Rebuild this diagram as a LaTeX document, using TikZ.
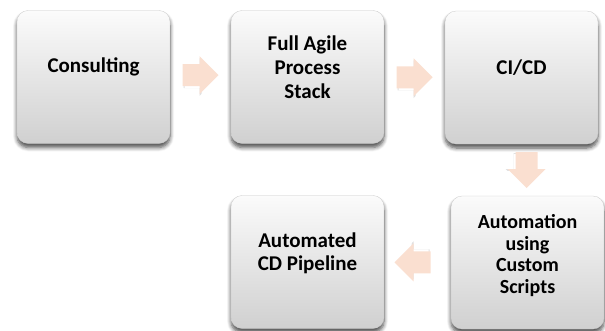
\documentclass[tikz,border=0pt]{standalone}
\usepackage{fontspec}
\setmainfont{Carlito}
\usetikzlibrary{calc,shadows.blur}
\definecolor{peach}{RGB}{250,223,208}
\definecolor{boxtop}{RGB}{251,251,251}
\definecolor{boxbot}{RGB}{208,208,208}
\definecolor{boxrim}{RGB}{200,200,200}
\tikzset{
  stepbox/.style={rounded corners=11pt, minimum width=153pt, minimum height=133pt,
    inner sep=0pt, draw=boxrim, line width=0.3pt,
    top color=boxtop, bottom color=boxbot,
    blur shadow={shadow xshift=0pt, shadow yshift=-4pt, shadow blur steps=6,
      shadow blur radius=4pt, shadow opacity=70}},
  steptext/.style={font=\fontsize{21}{24}\selectfont\bfseries, align=center,
    inner sep=0pt},
  pics/blockarrow/.style={code={
    % soft grey shadow
    \fill[black, opacity=0.12] (-17,-13) -- (-1,-13) -- (-1,-21) -- (17,-1) -- (-1,17) -- (-1,9) -- (-17,9) -- cycle;
    % white highlight copy
    \fill[white] (-16,-13) -- (1,-13) -- (1,-21) -- (21,-2) -- (1,17) -- (1,9) -- (-16,9) -- cycle;
    % peach arrow
    \fill[peach] (-18,-11) -- (-1,-11) -- (-1,-19) -- (18,0) -- (-1,19) -- (-1,11) -- (-18,11) -- cycle;
  }}
}
\begin{document}
\begin{tikzpicture}[x=1pt,y=1pt]
\useasboundingbox (0,-330) rectangle (605,0);

% process steps
\node[stepbox] (b1) at (93.5,-77) {};
\node[stepbox] (b2) at (307.5,-77) {};
\node[stepbox] (b3) at (521.5,-77.5) {};
\node[stepbox] (b4) at (527.5,-262.5) {};
\node[stepbox] (b5) at (307.5,-262) {};

\node[steptext] (t1) at ([yshift=10pt]b1.center) {Consulting};
\node[steptext] (t2) at ([yshift=10pt]b2.center) {Full Agile\\Process\\Stack};
\node[steptext] (t3) at ([yshift=10pt]b3.center) {CI/CD};
\node[steptext, font=\fontsize{20}{21.7}\selectfont\bfseries] (t4) at ([yshift=7pt]b4.center) {Automation\\using\\Custom\\Scripts};
\node[steptext, font=\fontsize{21}{23}\selectfont\bfseries] (t5) at ([yshift=9pt]b5.center) {Automated\\CD Pipeline};

% block arrows between the steps
\coordinate (m12) at ($(b1.east)!0.5!(b2.west)+(0,2)$);
\coordinate (m23) at ($(b2.east)!0.5!(b3.west)+(0,0)$);
\coordinate (m34) at ($(b3.south)!0.5!(b4.north)+(2,0)$);
\coordinate (m45) at ($(b4.west)!0.5!(b5.east)+(-5,0)$);
\pic at (m12) {blockarrow};
\pic at (m23) {blockarrow};
\pic[rotate=-90] at (m34) {blockarrow};
\pic[rotate=180] at (m45) {blockarrow};
\end{tikzpicture}
\end{document}
